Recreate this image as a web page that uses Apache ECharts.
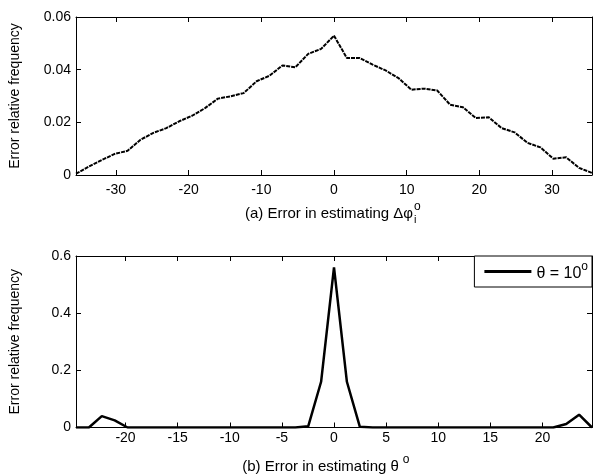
<!DOCTYPE html>
<html>
<head>
<meta charset="utf-8">
<script src="https://cdn.jsdelivr.net/npm/echarts@6/dist/echarts.min.js"></script>
<style>
  html, body { margin: 0; padding: 0; background: #fff; }
  #chart { width: 596px; height: 475px; }
</style>
</head>
<body>
<div id="chart"></div>
<script>
// (a) error in estimating delta phi, 41 samples from -35.5 to 35.5
const phiX = [
  -35.5, -33.725, -31.95, -30.175, -28.4, -26.625, -24.85, -23.075, -21.3, -19.525,
  -17.75, -15.975, -14.2, -12.425, -10.65, -8.875, -7.1, -5.325, -3.55, -1.775,
  0,
  1.775, 3.55, 5.325, 7.1, 8.875, 10.65, 12.425, 14.2, 15.975, 17.75,
  19.525, 21.3, 23.075, 24.85, 26.625, 28.4, 30.175, 31.95, 33.725, 35.5
];
const phiY = [
  0.0005, 0.0032, 0.0057, 0.0080, 0.0092, 0.0134, 0.0160, 0.0178, 0.0204, 0.0225,
  0.0254, 0.0290, 0.0299, 0.0311, 0.0356, 0.0377, 0.0416, 0.0409, 0.0460, 0.0479,
  0.0529,
  0.0444, 0.0444, 0.0419, 0.0397, 0.0368, 0.0324, 0.0328, 0.0321, 0.0267, 0.0257,
  0.0216, 0.0219, 0.0178, 0.0162, 0.0122, 0.0105, 0.0062, 0.0067, 0.0027, 0.0008
];

// (b) error in estimating theta, 41 samples from -24.75 to 24.75
const thetaX = [
  -24.75, -23.5125, -22.275, -21.0375, -19.8, -18.5625, -17.325, -16.0875, -14.85, -13.6125,
  -12.375, -11.1375, -9.9, -8.6625, -7.425, -6.1875, -4.95, -3.7125, -2.475, -1.2375,
  0,
  1.2375, 2.475, 3.7125, 4.95, 6.1875, 7.425, 8.6625, 9.9, 11.1375, 12.375,
  13.6125, 14.85, 16.0875, 17.325, 18.5625, 19.8, 21.0375, 22.275, 23.5125, 24.75
];
const thetaY = [
  0, 0, 0.040, 0.025, 0, 0, 0, 0, 0, 0,
  0, 0, 0, 0, 0, 0, 0, 0, 0.004, 0.160,
  0.560,
  0.160, 0.003, 0, 0, 0, 0, 0, 0, 0, 0,
  0, 0, 0, 0, 0, 0, 0, 0.012, 0.045, 0
];

const phiTicks = [-30, -20, -10, 0, 10, 20, 30];
const thetaTicks = [-20, -15, -10, -5, 0, 5, 10, 15, 20];
const legendName = "θ = 10";

const FONT = "Liberation Sans, Arial, sans-serif";
const chart = echarts.init(document.getElementById("chart"));

// measure text so the super/subscripts can sit right after the caption
function textWidth(str, size) {
  const ctx = document.createElement("canvas").getContext("2d");
  ctx.font = size + "px " + FONT;
  return ctx.measureText(str).width;
}

function caption(main, sup, sub, cx, cy, supGap) {
  const size = 15;
  const w = textWidth(main, size);
  const x0 = cx - (w + 9 + supGap) / 2;
  const els = [{
    type: "text", x: x0, y: cy,
    style: { text: main, font: size + "px " + FONT, fill: "#000", textVerticalAlign: "middle" }
  }, {
    type: "text", x: x0 + w + supGap, y: cy - 7,
    style: { text: sup, font: "12px " + FONT, fill: "#000", textVerticalAlign: "middle" }
  }];
  if (sub) {
    els.push({
      type: "text", x: x0 + w + 1, y: cy + 6,
      style: { text: sub, font: "11px " + FONT, fill: "#000", textVerticalAlign: "middle" }
    });
  }
  return els;
}

const tickLbl = { color: "#000", fontFamily: FONT, fontSize: 14 };
const line = { show: true, lineStyle: { color: "#000", width: 1 } };

function xAx(gridIndex, min, max, ticks, top, margin) {
  return {
    type: "value", gridIndex, min, max,
    position: top ? "top" : "bottom",
    axisLine: Object.assign({ onZero: false }, line),
    axisTick: { show: true, inside: true, length: 5, lineStyle: { color: "#000" }, customValues: ticks },
    axisLabel: Object.assign({ show: !top, margin, customValues: ticks }, tickLbl),
    splitLine: { show: false }
  };
}

function yAx(gridIndex, max, interval, right, name) {
  return {
    type: "value", gridIndex, min: 0, max, interval,
    position: right ? "right" : "left",
    name: right ? "" : name,
    nameLocation: "middle", nameGap: 54,
    nameTextStyle: { color: "#000", fontFamily: FONT, fontSize: 14 },
    axisLine: Object.assign({ onZero: false }, line),
    axisTick: { show: true, inside: true, length: 5, lineStyle: { color: "#000" } },
    axisLabel: Object.assign({ show: !right, margin: 5 }, tickLbl),
    splitLine: { show: false }
  };
}

const option = {
  backgroundColor: "#fff",
  animation: false,
  grid: [
    { left: 72, right: 4, top: 17, height: 158 },
    { left: 72, right: 4, top: 256, height: 171.5 }
  ],
  xAxis: [
    xAx(0, -35.5, 35.5, phiTicks, false, 8),
    xAx(0, -35.5, 35.5, phiTicks, true, 8),
    xAx(1, -24.75, 24.75, thetaTicks, false, 4),
    xAx(1, -24.75, 24.75, thetaTicks, true, 4)
  ],
  yAxis: [
    yAx(0, 0.06, 0.02, false, "Error relative frequency"),
    yAx(0, 0.06, 0.02, true),
    yAx(1, 0.6, 0.2, false, "Error relative frequency"),
    yAx(1, 0.6, 0.2, true)
  ],
  legend: {
    data: [legendName],
    right: 4, top: 256,
    orient: "vertical",
    padding: [5, 4, 5, 10],
    icon: "rect",
    itemWidth: 47, itemHeight: 3,
    itemStyle: { color: "#000", borderWidth: 0 },
    backgroundColor: "#fff",
    borderColor: "#000", borderWidth: 1, borderRadius: 0,
    formatter: n => "{a|" + n + "}{b|o}",
    textStyle: {
      rich: {
        a: { fontFamily: FONT, fontSize: 16, color: "#000", lineHeight: 21, verticalAlign: "bottom" },
        b: { fontFamily: FONT, fontSize: 12, color: "#000", lineHeight: 21, verticalAlign: "top" }
      }
    }
  },
  series: [
    {
      name: "phi", type: "line", xAxisIndex: 0, yAxisIndex: 0,
      data: phiX.map((x, i) => [x, phiY[i]]),
      symbol: "none", clip: true,
      itemStyle: { color: "#000" },
      lineStyle: { color: "#000", width: 2, type: [4, 1] }
    },
    {
      name: legendName, type: "line", xAxisIndex: 2, yAxisIndex: 2,
      data: thetaX.map((x, i) => [x, thetaY[i]]),
      symbol: "none", clip: true,
      itemStyle: { color: "#000" },
      lineStyle: { color: "#000", width: 2.5 }
    }
  ],
  graphic: [
    ...caption("(a) Error in estimating Δφ", "o", "i", 334, 214, 1),
    ...caption("(b) Error in estimating θ", "o", null, 327, 467, 4)
  ]
};

chart.setOption(option);
</script>
</body>
</html>
